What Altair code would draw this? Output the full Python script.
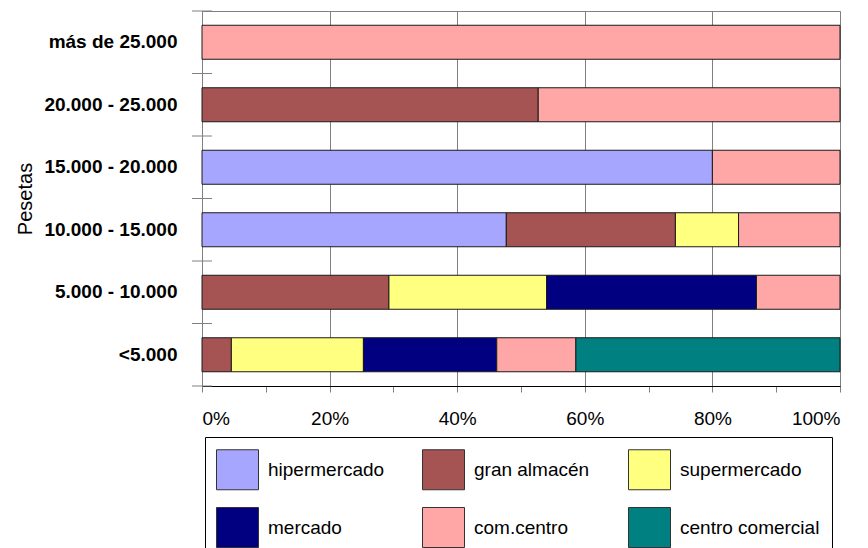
import altair as alt
import pandas as pd

# Spending bands (top to bottom) and store types (left to right in each bar)
rangos = ["más de 25.000", "20.000 - 25.000", "15.000 - 20.000",
          "10.000 - 15.000", "5.000 - 10.000", "<5.000"]
tiendas = ["hipermercado", "gran almacén", "supermercado",
           "mercado", "com.centro", "centro comercial"]
colores = ["#A6A6FF", "#A65353", "#FFFF80", "#000080", "#FFA6A6", "#008080"]

# Share of purchases (%) per band, one list per store type
hipermercado = [0, 0, 80.0, 47.7, 0, 0]
gran_almacen = [0, 52.7, 0, 26.5, 29.3, 4.6]
supermercado = [0, 0, 0, 9.9, 24.7, 20.7]
mercado = [0, 0, 0, 0, 32.9, 20.9]
com_centro = [100.0, 47.3, 20.0, 15.9, 13.1, 12.4]
centro_comercial = [0, 0, 0, 0, 0, 41.4]

series = [hipermercado, gran_almacen, supermercado, mercado, com_centro, centro_comercial]
rows = []
for orden, (tienda, valores) in enumerate(zip(tiendas, series)):
    for rango, v in zip(rangos, valores):
        if v > 0:
            rows.append({"rango": rango, "tienda": tienda, "pct": v, "orden": orden})
df = pd.DataFrame(rows)

# The legend grid fills column by column (2 rows x 3 columns), so the domain
# is arranged so that entries read across each row in store order.
N_COLS = 3
leyenda_idx = [r * N_COLS + c for c in range(N_COLS) for r in range(2)]
dominio = [tiendas[i] for i in leyenda_idx]
rango_colores = [colores[i] for i in leyenda_idx]

FONT = "Liberation Sans"
H = 375
STEP = H / len(rangos)
PAD_IN = 0.456

eje_y = alt.Axis(title="Pesetas", ticks=False, tickSize=0, labelPadding=25,
                 labelFont=FONT, labelFontSize=19, labelFontWeight="bold",
                 labelColor="black", domainColor="#808080",
                 titleFont=FONT, titleFontSize=20, titleFontWeight="normal",
                 titleColor="black", titleAngle=270, titleX=-177,
                 titleBaseline="middle", titleAlign="center")

bars = alt.Chart(df).mark_bar(stroke="#1a1a1a", strokeWidth=1).encode(
    y=alt.Y("rango:N", sort=rangos,
            scale=alt.Scale(paddingInner=PAD_IN, paddingOuter=PAD_IN / 2),
            axis=eje_y),
    x=alt.X("pct:Q", stack="zero", scale=alt.Scale(domain=[0, 100], nice=False),
            axis=alt.Axis(title=None, values=list(range(0, 101, 10)),
                          labelExpr="datum.value % 20 == 0 ? datum.value + '%' : ''",
                          labelFont=FONT, labelFontSize=19, labelColor="black",
                          labelPadding=17, labelBaseline="top",
                          tickColor="#808080", tickSize=6,
                          domainColor="black",
                          grid=True, gridColor="#808080",
                          gridOpacity={"condition": {"test": "datum.value % 20 == 0", "value": 1},
                                       "value": 0})),
    color=alt.Color("tienda:N", sort=dominio,
                    scale=alt.Scale(domain=dominio, range=rango_colores),
                    legend=alt.Legend(title=None, orient="none", legendX=3, legendY=426,
                                      columns=N_COLS, gridAlign="all",
                                      symbolType="M-1.05,-1L1.05,-1L1.05,1L-1.05,1Z",
                                      symbolSize=1600, symbolStrokeColor="#333333",
                                      symbolStrokeWidth=1, symbolOpacity=1,
                                      labelFont=FONT, labelFontSize=19, labelColor="black",
                                      labelOffset=10, labelLimit=400,
                                      rowPadding=13, columnPadding=12, padding=12,
                                      strokeColor="black", fillColor="white")),
    order=alt.Order("orden:Q"),
)

# Category tick marks on the band boundaries, crossing the y axis line
marcas = alt.Chart(pd.DataFrame({"rango": rangos})).mark_rule(
    color="#808080", yOffset=-PAD_IN * STEP / 2
).encode(
    y=alt.Y("rango:N", sort=rangos, bandPosition=0, axis=eje_y),
    x=alt.value(-10),
    x2=alt.value(10),
)
marca_final = alt.Chart(pd.DataFrame({"k": [0]})).mark_rule(color="#808080").encode(
    y=alt.value(H), x=alt.value(-10), x2=alt.value(10)
)

chart = alt.layer(bars, marcas, marca_final).properties(
    width=638, height=H,
    autosize=alt.AutoSizeParams(type="none"),
    padding={"left": 202, "top": 11, "right": 28, "bottom": 162},
    background="white",
).configure_view(stroke="#808080", strokeWidth=1)

chart.save("out.html", embed_options={"renderer": "svg", "actions": False})
